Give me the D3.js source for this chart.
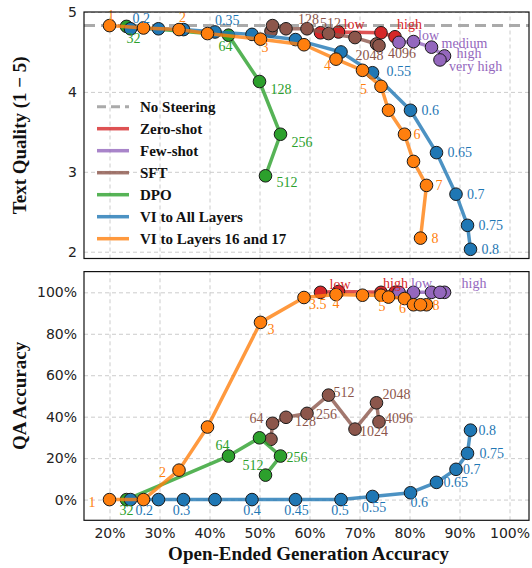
<!DOCTYPE html>
<html>
<head>
<meta charset="utf-8">
<script src="https://cdn.jsdelivr.net/npm/d3@7"></script>
<style>
  body { margin: 0; background: #fff; }
  svg { display: block; }
</style>
</head>
<body>
<svg id="chart"></svg>
<script>
// ---- data ----
const noSteeringTQ = 4.83;

const zeroLab = ['low', '', '', 'high'];
const zeroX   = [62.2, 65.8, 74.3, 77.1];
const zeroTQ  = [4.74, 4.75, 4.74, 4.69];
const zeroQA  = [100, 100.4, 100, 100];

const fewLab = ['low', '', 'medium', 'high', 'very high'];
const fewX   = [77.9, 80.8, 84.4, 87.0, 86.1];
const fewTQ  = [4.62, 4.63, 4.56, 4.45, 4.40];
const fewQA  = [100, 100, 100, 100, 100];

const sftLab = ['32', '64', '128', '256', '512', '1024', '2048', '4096'];
const sftX   = [52.3, 52.6, 55.3, 59.5, 63.8, 69.1, 73.4, 73.9];
const sftTQ  = [4.76, 4.83, 4.79, 4.79, 4.73, 4.68, 4.60, 4.58];
const sftQA  = [29.1, 36.8, 39.7, 41.6, 50.4, 34.0, 46.7, 37.5];

const dpoLab = ['32', '64', '128', '256', '512'];
const dpoX   = [23.4, 43.8, 50.0, 54.2, 51.2];
const dpoTQ  = [4.82, 4.71, 4.13, 3.47, 2.95];
const dpoQA  = [0, 21.0, 29.8, 21.0, 11.8];

const viAllLab = ['0.2', '0.25', '0.3', '0.35', '0.4', '0.45', '0.5', '0.55', '0.6', '0.65', '0.7', '0.75', '0.8'];
const viAllX   = [24.2, 29.8, 34.8, 41.1, 48.5, 57.2, 66.3, 72.6, 80.2, 85.4, 89.3, 91.6, 92.2];
const viAllTQ  = [4.79, 4.79, 4.78, 4.75, 4.72, 4.655, 4.50, 4.24, 3.77, 3.24, 2.72, 2.33, 2.03];
const viAllQA  = [0, 0, 0, 0, 0, 0, 0, 1.5, 3.3, 8.3, 14.6, 22.3, 33.5];

const vi16Lab = ['1', '1.5', '2', '2.5', '3', '3.5', '4', '4.5', '5', '5.5', '6', '6.5', '7', '8'];
const vi16X   = [20.0, 26.8, 33.9, 39.6, 50.2, 58.9, 65.3, 70.6, 74.3, 75.8, 79.0, 80.8, 83.4, 82.2];
const vi16TQ  = [4.83, 4.80, 4.78, 4.73, 4.66, 4.59, 4.41, 4.27, 4.07, 3.77, 3.47, 3.13, 2.83, 2.17];
const vi16QA  = [0, 0, 14.2, 35.0, 85.5, 97.5, 98.9, 98.6, 98.6, 97.7, 97.0, 94.0, 94.0, 94.0];

const xTicks = [20, 30, 40, 50, 60, 70, 80, 90, 100];
const tqTicks = [2, 3, 4, 5];
const qaTicks = [0, 20, 40, 60, 80, 100];

const series = [
  { key: 'zero',  name: 'Zero-shot',              color: '#d62728', lab: zeroLab,  x: zeroX,  tq: zeroTQ,  qa: zeroQA },
  { key: 'few',   name: 'Few-shot',               color: '#9467bd', lab: fewLab,   x: fewX,   tq: fewTQ,   qa: fewQA },
  { key: 'sft',   name: 'SFT',                    color: '#8c564b', lab: sftLab,   x: sftX,   tq: sftTQ,   qa: sftQA },
  { key: 'dpo',   name: 'DPO',                    color: '#2ca02c', lab: dpoLab,   x: dpoX,   tq: dpoTQ,   qa: dpoQA },
  { key: 'viAll', name: 'VI to All Layers',       color: '#1f77b4', lab: viAllLab, x: viAllX, tq: viAllTQ, qa: viAllQA },
  { key: 'vi16',  name: 'VI to Layers 16 and 17', color: '#ff7f0e', lab: vi16Lab,  x: vi16X,  tq: vi16TQ,  qa: vi16QA },
];

// ---- annotation placement (pixel offsets from the point: dx, dy, anchor) ----
const topLabels = {
  'vi16:1': [1.5, -10, 'middle'], 'vi16:2': [0, -12, 'start'], 'vi16:3': [1, 8, 'start'],
  'vi16:4': [-5, 6, 'end'], 'vi16:5': [-14, 3, 'end'], 'vi16:6': [9, 0, 'start'],
  'vi16:7': [9, 0, 'start'], 'vi16:8': [11, 0, 'start'],
  'viAll:0.2': [2, -10, 'start'], 'viAll:0.35': [0, -12, 'start'], 'viAll:0.55': [14, -1, 'start'],
  'viAll:0.6': [11, 0, 'start'], 'viAll:0.65': [11, 0, 'start'], 'viAll:0.7': [11, 0, 'start'],
  'viAll:0.75': [11, 0, 'start'], 'viAll:0.8': [11, 0, 'start'],
  'dpo:32': [0, 12, 'start'], 'dpo:64': [-3, 11, 'middle'], 'dpo:128': [11, 8, 'start'],
  'dpo:256': [11, 8, 'start'], 'dpo:512': [11, 7, 'start'],
  'sft:128': [12, -9, 'start'], 'sft:512': [2, -10, 'middle'], 'sft:2048': [-7, 11, 'middle'],
  'sft:4096': [9, 8, 'start'],
  'zero:low': [23, -8, 'start'], 'zero:high': [2, -12, 'start'],
  'few:low': [19, -7, 'start'], 'few:medium': [10, -4, 'start'], 'few:high': [12, -3, 'start'],
  'few:very high': [9, 6, 'start'],
};
const bottomLabels = {
  'vi16:1': [-14, 3, 'end'], 'vi16:2': [-13, 2, 'end'], 'vi16:3': [7, 7, 'start'],
  'vi16:3.5': [5, 7, 'start'], 'vi16:4': [0, 9, 'middle'], 'vi16:5': [1, 11, 'middle'],
  'vi16:6': [-2, 10, 'middle'], 'vi16:8': [12, 1, 'start'],
  'viAll:0.2': [5, 11, 'start'], 'viAll:0.3': [-2, 11, 'middle'], 'viAll:0.4': [0, 11, 'middle'],
  'viAll:0.45': [1, 11, 'middle'], 'viAll:0.5': [-1, 11, 'middle'], 'viAll:0.55': [1.5, 11, 'middle'],
  'viAll:0.6': [0, 10, 'start'], 'viAll:0.65': [7, 0, 'start'], 'viAll:0.7': [7, 0, 'start'],
  'viAll:0.75': [12, 0, 'start'], 'viAll:0.8': [8, 0, 'start'],
  'dpo:32': [0, 11, 'middle'], 'dpo:64': [-6, -11, 'middle'], 'dpo:512': [-2, -10, 'end'],
  'dpo:256': [6, 1, 'start'],
  'sft:64': [-9, -5, 'end'], 'sft:128': [9, 4, 'start'], 'sft:256': [9, 1, 'start'],
  'sft:512': [5, -3, 'start'], 'sft:1024': [5, 2, 'start'], 'sft:2048': [6, -8, 'start'],
  'sft:4096': [6, -3, 'start'],
  'zero:low': [9, -8, 'start'], 'zero:high': [-12, -9, 'start'],
  'few:low': [12, -9, 'start'], 'few:high': [17, -9, 'start'],
};

// ---- layout ----
const width = 532, height = 568;
const left = 84, right = 529;
const serif = '"Liberation Serif", "DejaVu Serif", serif';
const sans = '"DejaVu Sans", sans-serif';
const gridColor = '#cccccc';

const x = d3.scaleLinear([14.9, 103.9], [left, right]);
const yTop = d3.scaleLinear([1.915, 5.0], [258.5, 12]);
const yBot = d3.scaleLinear([-10, 110], [520.3, 271.6]);

const svg = d3.select('#chart')
  .attr('width', width)
  .attr('height', height)
  .attr('viewBox', [0, 0, width, height]);

svg.append('rect').attr('width', width).attr('height', height).attr('fill', '#fff');

function drawPanel(y, valueKey, yTickValues, yFormat, labelPos, beforeSeries) {
  const [y0, y1] = y.range();
  const g = svg.append('g');

  // grid
  g.append('g')
    .attr('transform', `translate(0,${y0})`)
    .call(d3.axisBottom(x).tickValues(xTicks).tickSize(-(y0 - y1)).tickFormat(''))
    .call(a => a.select('.domain').remove())
    .call(a => a.selectAll('.tick line')
      .attr('stroke', gridColor).attr('stroke-width', 1).attr('stroke-dasharray', '4,3'));
  g.append('g')
    .attr('transform', `translate(${left},0)`)
    .call(d3.axisLeft(y).tickValues(yTickValues).tickSize(-(right - left)).tickPadding(7).tickFormat(yFormat))
    .call(a => a.select('.domain').remove())
    .call(a => a.selectAll('.tick line')
      .attr('stroke', gridColor).attr('stroke-width', 1).attr('stroke-dasharray', '4,3'))
    .call(a => a.selectAll('.tick text')
      .attr('font-family', sans).attr('font-size', 14).attr('fill', '#222'));

  if (beforeSeries) beforeSeries(g);

  for (const s of series) {
    const I = d3.range(s.x.length);
    const line = d3.line()
      .x(i => x(s.x[i]))
      .y(i => y(s[valueKey][i]));
    const sg = g.append('g');
    sg.append('path')
      .attr('d', line(I))
      .attr('fill', 'none')
      .attr('stroke', s.color)
      .attr('stroke-opacity', 0.8)
      .attr('stroke-width', 3.5)
      .attr('stroke-linejoin', 'round')
      .attr('stroke-linecap', 'round');
    sg.selectAll('circle')
      .data(I)
      .join('circle')
      .attr('cx', i => x(s.x[i]))
      .attr('cy', i => y(s[valueKey][i]))
      .attr('r', 6.3)
      .attr('fill', s.color)
      .attr('stroke', '#1a1a1a')
      .attr('stroke-width', 1);
  }

  // point annotations
  const ann = [];
  for (const s of series) {
    s.lab.forEach((t, i) => {
      const p = labelPos[`${s.key}:${t}`];
      if (t && p) ann.push({ s, i, t, p });
    });
  }
  g.append('g')
    .selectAll('text')
    .data(ann)
    .join('text')
    .attr('x', d => x(d.s.x[d.i]) + d.p[0])
    .attr('y', d => y(d.s[valueKey][d.i]) + d.p[1])
    .attr('dy', '0.33em')
    .attr('text-anchor', d => d.p[2])
    .attr('font-family', serif)
    .attr('font-size', 14)
    .attr('fill', d => d.s.color)
    .text(d => d.t);

  // frame
  g.append('rect')
    .attr('x', left).attr('y', y1)
    .attr('width', right - left).attr('height', y0 - y1)
    .attr('fill', 'none').attr('stroke', '#111').attr('stroke-width', 1.2);
  return g;
}

// ---- top panel: text quality ----
drawPanel(yTop, 'tq', tqTicks, d3.format('d'), topLabels, g => {
  g.append('line')
    .attr('x1', left).attr('x2', right)
    .attr('y1', yTop(noSteeringTQ)).attr('y2', yTop(noSteeringTQ))
    .attr('stroke', '#aaaaaa').attr('stroke-width', 3)
    .attr('stroke-dasharray', '11,6');
});

// legend (no background box, lines stay visible through it)
const legend = svg.append('g').attr('transform', 'translate(90,95)');
const legendItems = [{ name: 'No Steering', color: '#aaaaaa', dash: '9,5' }]
  .concat(series.map(s => ({ name: s.name, color: s.color })));
const li = legend.selectAll('g.item')
  .data(legendItems)
  .join('g')
  .attr('class', 'item')
  .attr('transform', (d, i) => `translate(0,${11.7 + i * 22})`);
li.append('line')
  .attr('x1', 7).attr('x2', 39)
  .attr('stroke', d => d.color)
  .attr('stroke-opacity', d => d.dash ? 1 : 0.8)
  .attr('stroke-width', d => d.dash ? 3 : 3.5)
  .attr('stroke-dasharray', d => d.dash || null);
li.append('text')
  .attr('x', 50)
  .attr('dy', '0.35em')
  .attr('font-family', serif)
  .attr('font-weight', 'bold')
  .attr('font-size', 15)
  .attr('fill', '#111')
  .text(d => d.name);

// ---- bottom panel: QA accuracy ----
drawPanel(yBot, 'qa', qaTicks, d => d + '%', bottomLabels);

// x axis labels
svg.append('g')
  .attr('transform', `translate(0,${yBot.range()[0]})`)
  .call(d3.axisBottom(x).tickValues(xTicks).tickSize(0).tickPadding(8).tickFormat(d => d + '%'))
  .call(a => a.select('.domain').remove())
  .call(a => a.selectAll('.tick text')
    .attr('font-family', sans).attr('font-size', 14).attr('fill', '#222'));

// titles
svg.append('text')
  .attr('x', (left + right) / 2 + 2).attr('y', 560)
  .attr('text-anchor', 'middle')
  .attr('font-family', serif).attr('font-weight', 'bold').attr('font-size', 19)
  .attr('fill', '#111')
  .text('Open-Ended Generation Accuracy');
svg.append('text')
  .attr('transform', `translate(26,${(yTop.range()[0] + yTop.range()[1]) / 2}) rotate(-90)`)
  .attr('text-anchor', 'middle')
  .attr('font-family', serif).attr('font-weight', 'bold').attr('font-size', 19)
  .attr('fill', '#111')
  .text('Text Quality (1 − 5)');
svg.append('text')
  .attr('transform', `translate(26,${(yBot.range()[0] + yBot.range()[1]) / 2}) rotate(-90)`)
  .attr('text-anchor', 'middle')
  .attr('font-family', serif).attr('font-weight', 'bold').attr('font-size', 19)
  .attr('fill', '#111')
  .text('QA Accuracy');
</script>
</body>
</html>
